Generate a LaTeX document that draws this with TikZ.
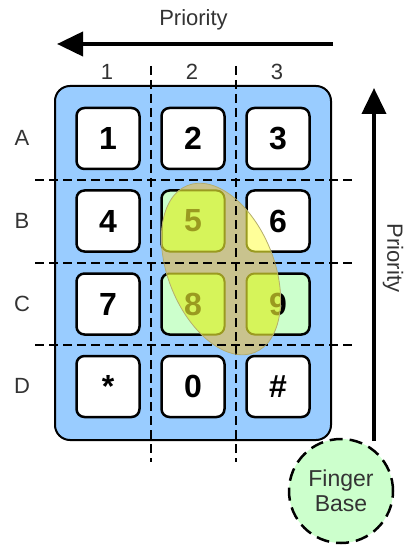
\documentclass[tikz,border=0pt]{standalone}
\usepackage{fontspec}
\setmainfont{Liberation Sans}
\usetikzlibrary{arrows.meta}
\definecolor{padblue}{HTML}{99CCFF}
\definecolor{keygreen}{HTML}{CCFFCC}
\definecolor{khaki}{HTML}{C9C38E}
\definecolor{limey}{HTML}{D6F45A}
\definecolor{paley}{HTML}{FFFF99}
\definecolor{olivey}{HTML}{9A9A20}
\definecolor{ellline}{HTML}{B5AE6E}
\definecolor{labgray}{HTML}{333333}
\begin{document}
\begin{tikzpicture}[x=1pt,y=-1pt,
  key/.style={draw=black, line width=2.5pt, rounded corners=8pt, fill=white,
    minimum width=63pt, minimum height=61pt, inner sep=0pt,
    font=\fontsize{32}{32}\selectfont\bfseries},
  keyg/.style={key, fill=keygreen},
  keyhl/.style={key, fill=limey, draw=olivey, line width=2pt, text=olivey},
  keyhy/.style={key, fill=paley, draw=olivey, line width=2pt, text=olivey},
  lab/.style={font=\fontsize{22}{22}\selectfont, text=labgray, inner sep=0pt},
  grid/.style={line width=1.4pt, dash pattern=on 9pt off 5pt},
  bigarrow/.style={line width=4pt, -{Triangle[length=26pt,width=24pt]}},
  pad/.style={draw=black, line width=2pt, fill=padblue, rounded corners=15pt},
  finger/.style={circle, draw=black, line width=2.5pt, dash pattern=on 13pt off 7pt,
    fill=keygreen, minimum size=104pt, inner sep=0pt, align=center,
    font=\fontsize{23}{25}\selectfont, text=labgray}
]
\useasboundingbox (0,0) rectangle (404,545);

% keypad body
\draw[pad] (55,86) rectangle (331,440);

% keys
\node[key]  (k1) at (108,138.5) {1};
\node[key]  (k2) at (193,138.5) {2};
\node[key]  (k3) at (278,138.5) {3};
\node[key]  (k4) at (108,221) {4};
\node[keyg] (k5) at (193,221) {5};
\node[key]  (k6) at (278,221) {6};
\node[key]  (k7) at (108,304) {7};
\node[keyg] (k8) at (193,304) {8};
\node[keyg] (k9) at (278,304) {9};
\node[key]  (ks) at (108,386.5) {\raisebox{-0.22em}{*}};
\node[key]  (k0) at (193,386.5) {0};
\node[key]  (kh) at (278,386.5) {\#};

% highlight ellipse
\coordinate (ec) at (221,269);
\begin{scope}
  \path[clip, rotate around={22:(ec)}] (ec) ellipse [x radius=53pt, y radius=90pt];
  \fill[khaki] (100,150) rectangle (340,380);
  \node[keyhl] (k5y) at (k5) {5};
  \node[keyhy] (k6y) at (k6) {6};
  \node[keyhl] (k8y) at (k8) {8};
  \node[keyhl] (k9y) at (k9) {9};
\end{scope}

% grid lines
\draw[grid] (151,66) -- (151,462);
\draw[grid] (236,66) -- (236,462);
\draw[grid] (35,180) -- (354,180);
\draw[grid] (35,263) -- (354,263);
\draw[grid] (35,345) -- (354,345);

\draw[ellline, line width=0.8pt, rotate around={22:(ec)}] (ec) ellipse [x radius=53pt, y radius=90pt];

% labels
\node[lab, anchor=base] (ptop) at (193.5,26) {Priority};
\node[lab, anchor=base] (c1) at (107,80) {1};
\node[lab, anchor=base] (c2) at (192,80) {2};
\node[lab, anchor=base] (c3) at (277,80) {3};
\node[lab, anchor=base] (rA) at (22,146) {A};
\node[lab, anchor=base] (rB) at (22,228) {B};
\node[lab, anchor=base] (rC) at (22,311) {C};
\node[lab, anchor=base] (rD) at (22,393) {D};
\node[lab, rotate=-90] (pright) at (393,258) {Priority};

% arrows
\coordinate (ha) at (333,44);
\coordinate (hb) at (57,44);
\draw[bigarrow] (ha) -- (hb);
\coordinate (va) at (374,441);
\coordinate (vb) at (374,88);
\draw[bigarrow] (va) -- (vb);

% finger base
\node[finger] (fb) at (341,491) {Finger\\Base};
\end{tikzpicture}
\end{document}
